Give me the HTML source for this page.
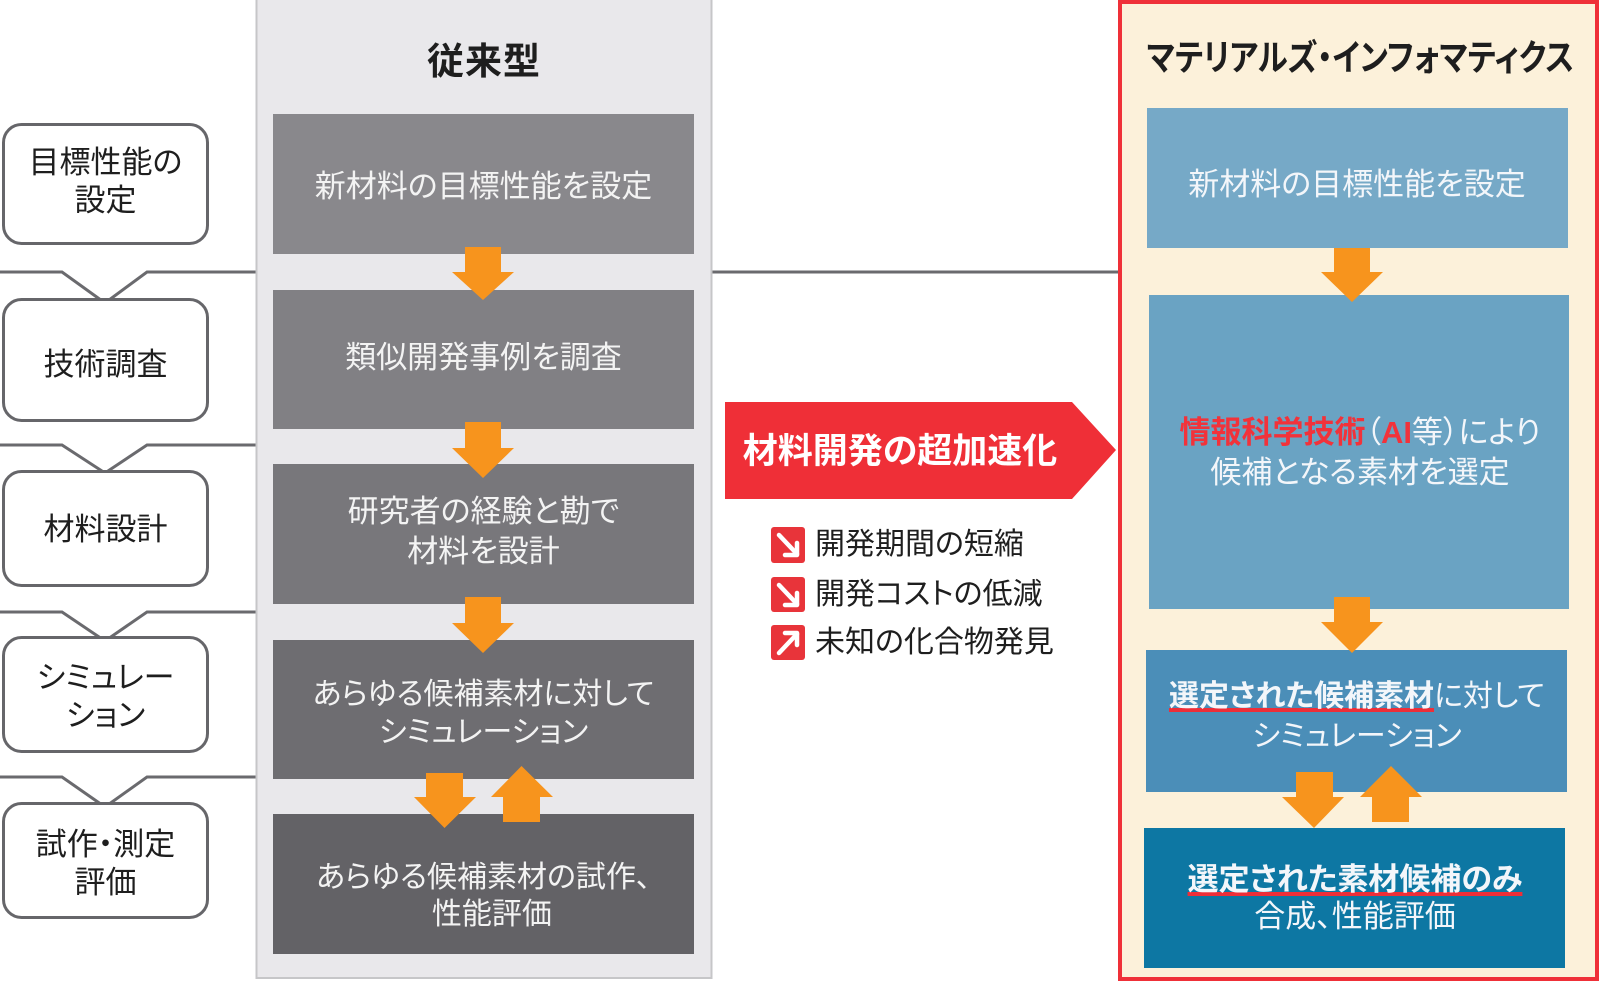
<!DOCTYPE html>
<html><head><meta charset="utf-8">
<style>
html,body{margin:0;padding:0}
body{width:1600px;height:982px;position:relative;overflow:hidden;background:#fff;
font-family:"Liberation Sans","Noto Sans CJK JP",sans-serif;font-feature-settings:"palt";}
svg{position:absolute;left:0;top:0}
.t{position:absolute;text-align:center;white-space:nowrap;}
.lb{color:#1e1e1e;font-size:31px;line-height:38px;left:2px;width:207px;}
.mb{color:#f3f3f3;font-size:31px;left:273px;width:421px;}
.rb{color:#f3f6fa;font-size:31px;left:1146px;width:422px;}
.red{color:#f2323a;font-weight:bold;}
.b{font-weight:bold;}
.ul{text-decoration:underline;text-decoration-color:#ee2e38;text-decoration-thickness:4px;text-underline-offset:2px;text-decoration-skip-ink:none;}
.li{color:#1e1e1e;font-size:30px;line-height:40px;left:815px;text-align:left;}
</style></head>
<body>
<svg width="1600" height="982" viewBox="0 0 1600 982">
  <g fill="none" stroke="#6a6a6e" stroke-width="3">
    <polyline points="0,272 62,272 105,303 147,272 258,272"/>
    <polyline points="0,445 62,445 105,473 147,445 258,445"/>
    <polyline points="0,612 62,612 105,641 147,612 258,612"/>
    <polyline points="0,777 62,777 105,807 147,777 258,777"/>
    <line x1="710" y1="272" x2="1120" y2="272"/>
  </g>
  <g fill="#fff" stroke="#66666a" stroke-width="3">
    <rect x="3.5" y="124.5" width="204" height="119" rx="18"/>
    <rect x="3.5" y="299.5" width="204" height="121" rx="18"/>
    <rect x="3.5" y="471.5" width="204" height="114" rx="18"/>
    <rect x="3.5" y="637.5" width="204" height="114" rx="18"/>
    <rect x="3.5" y="803.5" width="204" height="114" rx="18"/>
  </g>
  <rect x="256.5" y="-2" width="455" height="980" fill="#e9e8eb" stroke="#c6c6c8" stroke-width="2"/>
  <rect x="273" y="114" width="421" height="140" fill="#89888c"/>
  <rect x="273" y="290" width="421" height="139" fill="#818084"/>
  <rect x="273" y="464" width="421" height="140" fill="#78777b"/>
  <rect x="273" y="640" width="421" height="139" fill="#6e6d71"/>
  <rect x="273" y="814" width="421" height="140" fill="#636266"/>
  <g fill="#f7941d">
    <polygon points="465,247 501,247 501,272 514,272 483,300 452,272 465,272"/>
    <polygon points="465,422 501,422 501,448 514,448 483,478 452,448 465,448"/>
    <polygon points="465,597 501,597 501,623 514,623 483,653 452,623 465,623"/>
    <polygon points="426,773 463,773 463,797 476,797 444.5,828 414,797 426,797"/>
    <polygon points="503,822 540,822 540,797 553,797 521.5,766 491,797 503,797"/>
  </g>
  <polygon points="725,402 1072,402 1116,450 1072,499 725,499" fill="#ef2f37"/>
  <g>
    <rect x="771" y="527" width="34" height="36" rx="3" fill="#e8343a"/>
    <rect x="771" y="577" width="34" height="35" rx="3" fill="#e8343a"/>
    <rect x="771" y="625" width="34" height="35" rx="3" fill="#e8343a"/>
    <g fill="none" stroke="#fff" stroke-width="4.5" stroke-linecap="round" stroke-linejoin="round">
      <path d="M779,535 L797,554"/>
      <path d="M785,555 L797,555 L797,543"/>
      <path d="M779,585 L797,604"/>
      <path d="M785,605 L797,605 L797,593"/>
      <path d="M779,653 L797,634"/>
      <path d="M785,633 L797,633 L797,645"/>
    </g>
  </g>
  <rect x="1120" y="2" width="477" height="977" fill="#fcf1da" stroke="#ef3038" stroke-width="4"/>
  <rect x="1147" y="108" width="421" height="140" fill="#76a9c7"/>
  <rect x="1149" y="295" width="420" height="314" fill="#6aa3c3"/>
  <rect x="1146" y="650" width="421" height="142" fill="#4b8eb8"/>
  <rect x="1144" y="828" width="421" height="140" fill="#0d77a3"/>
  <g fill="#f7941d">
    <polygon points="1334,248 1370,248 1370,272 1383,272 1352,302 1321,272 1334,272"/>
    <polygon points="1334,597 1370,597 1370,622 1383,622 1352,653 1321,622 1334,622"/>
    <polygon points="1296,772 1333,772 1333,797 1344,797 1314,828 1282,797 1296,797"/>
    <polygon points="1372,822 1409,822 1409,797 1422,797 1391,766 1360,797 1372,797"/>
  </g>
</svg>

<div class="t lb" style="top:144px;">目標性能の<br>設定</div>
<div class="t lb" style="top:346px;">技術調査</div>
<div class="t lb" style="top:511px;">材料設計</div>
<div class="t lb" style="top:659px;">シミュレー<br>ション</div>
<div class="t lb" style="top:826px;">試作・測定<br>評価</div>

<div class="t b" style="left:256px;width:456px;top:38px;font-size:37px;line-height:48px;color:#1e1e1e;letter-spacing:1px;">従来型</div>
<div class="t mb" style="top:167px;line-height:40px;">新材料の目標性能を設定</div>
<div class="t mb" style="top:338px;line-height:40px;">類似開発事例を調査</div>
<div class="t mb" style="top:492px;line-height:40px;">研究者の経験と勘で<br>材料を設計</div>
<div class="t mb" style="top:676px;line-height:38px;font-size:30px;">あらゆる候補素材に対して<br>シミュレーション</div>
<div class="t mb" style="top:859px;line-height:37px;font-size:30px;">あらゆる候補素材の試作、<br>&nbsp;&nbsp;性能評価</div>

<div class="t b" style="left:725px;width:350px;top:430px;font-size:35px;line-height:44px;color:#fff;">材料開発の超加速化</div>

<div class="t li" style="top:525px;">開発期間の短縮</div>
<div class="t li" style="top:575px;">開発コストの低減</div>
<div class="t li" style="top:623px;">未知の化合物発見</div>

<div class="t b" style="left:1109px;width:475px;top:34px;font-size:36px;line-height:48px;color:#1e1e1e;"><span style="display:inline-block;transform:scaleX(0.85);transform-origin:50% 50%;">マテリアルズ・インフォマティクス</span></div>
<div class="t rb" style="top:165px;line-height:40px;">新材料の目標性能を設定</div>
<div class="t rb" style="top:413px;line-height:40px;left:1149px;"><span class="red">情報科学技術</span>（<span class="red">AI</span>等）により<br>候補となる素材を選定</div>
<div class="t rb" style="top:677px;line-height:40px;font-size:30px;"><span class="b ul">選定された候補素材</span>に対して<br>シミュレーション</div>
<div class="t rb" style="top:861px;line-height:37px;left:1144px;"><span class="b ul">選定された素材候補のみ</span><br>合成、性能評価</div>
</body></html>
